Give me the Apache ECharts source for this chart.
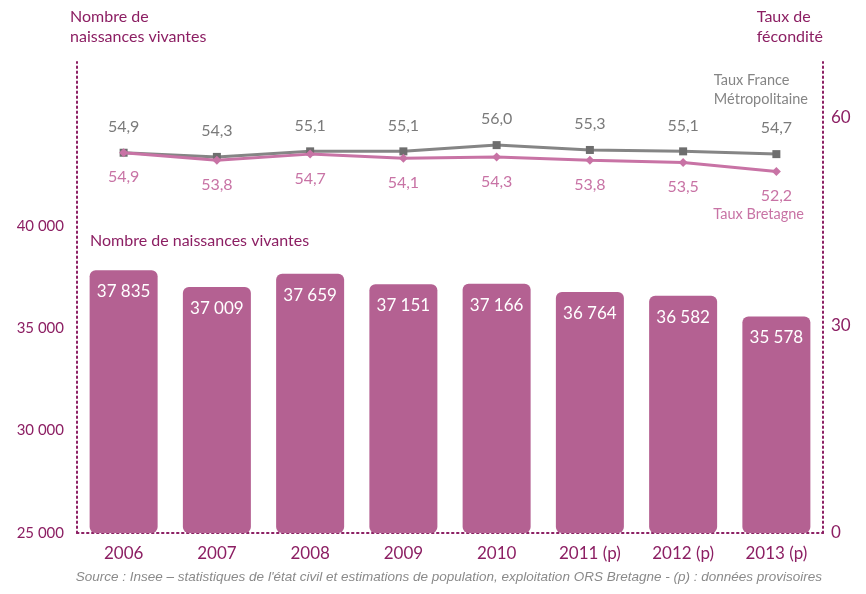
<!DOCTYPE html>
<html>
<head>
<meta charset="utf-8">
<script src="https://cdn.jsdelivr.net/npm/echarts@6/dist/echarts.min.js"></script>
<style>
  html, body { margin: 0; padding: 0; background: #fff; }
  #panel { width: 866px; height: 594px; }
</style>
</head>
<body>
<div id="panel"></div>
<script>
const years = ['2006', '2007', '2008', '2009', '2010', '2011 (p)', '2012 (p)', '2013 (p)'];
const naissances = [37835, 37009, 37659, 37151, 37166, 36764, 36582, 35578];
const tauxFrance = [54.9, 54.3, 55.1, 55.1, 56.0, 55.3, 55.1, 54.7];
const tauxBretagne = [54.9, 53.8, 54.7, 54.1, 54.3, 53.8, 53.5, 52.2];
const leftTicks = [25000, 30000, 35000, 40000];
const rightTicks = [0, 30, 60];

const DARK = '#8c1f63';
const BAR = '#b46192';
const GREY = '#858585';
const PINK = '#c873a5';
const FONT = 'Lato, "Open Sans", sans-serif';

const fmtThousands = (v) => String(v).replace(/\B(?=(\d{3})+(?!\d))/g, ' ');
const fmtComma = (v) => v.toFixed(1).replace('.', ',');

const chart = echarts.init(document.getElementById('panel'));

// petits points pour les axes
const dotted = { show: true, lineStyle: { color: DARK, width: 2, type: [1.5, 3.5] } };

const option = {
  backgroundColor: '#fff',
  animation: false,
  textStyle: { fontFamily: FONT },
  grid: { left: 77, right: 43, top: 62, bottom: 61 },
  xAxis: {
    type: 'category',
    data: years,
    axisLine: dotted,
    axisTick: { show: false },
    axisLabel: { color: DARK, fontSize: 17, margin: 12, fontFamily: FONT }
  },
  yAxis: [
    {
      type: 'value',
      min: 25000,
      max: 48000,
      interval: 5000,
      axisLine: dotted,
      axisTick: { show: false },
      splitLine: { show: false },
      axisLabel: {
        color: DARK, fontSize: 15, margin: 13, fontFamily: FONT,
        formatter: (v) => (leftTicks.includes(v) ? fmtThousands(v) : '')
      }
    },
    {
      type: 'value',
      min: 0,
      max: 68,
      interval: 30,
      position: 'right',
      axisLine: dotted,
      axisTick: { show: false },
      splitLine: { show: false },
      axisLabel: {
        color: DARK, fontSize: 17, margin: 8, fontFamily: FONT,
        formatter: (v) => (rightTicks.includes(v) ? String(v) : '')
      }
    }
  ],
  graphic: [
    { type: 'text', left: 70, top: 7, style: { text: 'Nombre de\nnaissances vivantes', fill: DARK, font: '16px ' + FONT, lineHeight: 20 } },
    { type: 'text', right: 43, top: 7, style: { text: 'Taux de\nfécondité', fill: DARK, font: '16px ' + FONT, lineHeight: 20, align: 'right' } },
    { type: 'text', left: 90, top: 233, style: { text: 'Nombre de naissances vivantes', fill: DARK, font: '16px ' + FONT } },
    { type: 'text', right: 58, top: 71, style: { text: 'Taux France\nMétropolitaine', fill: GREY, font: '14.5px ' + FONT, lineHeight: 19, align: 'right' } },
    { type: 'text', right: 62, top: 207, style: { text: 'Taux Bretagne', fill: PINK, font: '14.5px ' + FONT } },
    {
      type: 'text', right: 44, top: 570,
      style: {
        text: "Source : Insee – statistiques de l'état civil et estimations de population, exploitation ORS Bretagne - (p) : données provisoires",
        fill: '#8a8a8a', font: 'italic 13.5px "Liberation Sans", Arial, sans-serif'
      }
    }
  ],
  series: [
    {
      name: 'Nombre de naissances vivantes',
      type: 'bar',
      data: naissances,
      barWidth: 68,
      itemStyle: { color: BAR, borderRadius: 6 },
      label: {
        show: true,
        position: 'insideTop',
        distance: 13,
        color: '#fff',
        fontSize: 17,
        fontFamily: FONT,
        formatter: (p) => fmtThousands(p.value)
      }
    },
    {
      name: 'Taux France Métropolitaine',
      type: 'line',
      yAxisIndex: 1,
      data: tauxFrance,
      symbol: 'rect',
      symbolSize: 8,
      lineStyle: { color: GREY, width: 3 },
      itemStyle: { color: '#6e6e6e' },
      label: {
        show: true, position: 'top', distance: 14, color: '#7a7a7a', fontSize: 16, fontFamily: FONT,
        formatter: (p) => fmtComma(p.value)
      },
      z: 3
    },
    {
      name: 'Taux Bretagne',
      type: 'line',
      yAxisIndex: 1,
      data: tauxBretagne,
      symbol: 'diamond',
      symbolSize: 9,
      lineStyle: { color: PINK, width: 3 },
      itemStyle: { color: PINK },
      label: {
        show: true, position: 'bottom', distance: 12, color: PINK, fontSize: 16, fontFamily: FONT,
        formatter: (p) => fmtComma(p.value)
      },
      z: 4
    }
  ]
};

chart.setOption(option);
</script>
</body>
</html>
